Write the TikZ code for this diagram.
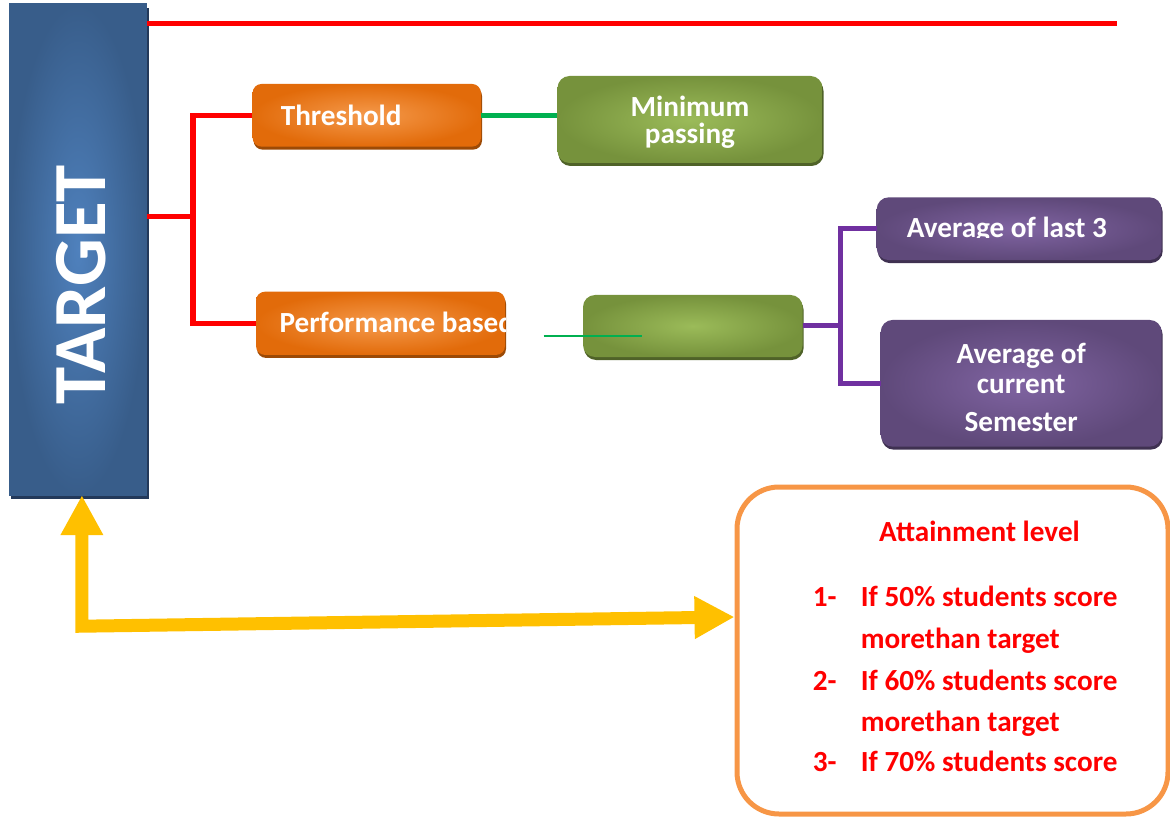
\documentclass[tikz,border=0pt]{standalone}
\usepackage{fontspec}
\setmainfont{Carlito}
\usetikzlibrary{
	arrows.meta,
	positioning,
	shadows
}

\definecolor{tgtlight}{HTML}{4F81BD}
\definecolor{tgtdark}{HTML}{385D8A}
\definecolor{tgtshadow}{HTML}{23395A}
\definecolor{orglight}{HTML}{F59A4C}
\definecolor{orgdark}{HTML}{E26B0A}
\definecolor{orgshadow}{HTML}{9C4A06}
\definecolor{grnlight}{HTML}{9BBB59}
\definecolor{grndark}{HTML}{76923C}
\definecolor{grnshadow}{HTML}{4F6228}
\definecolor{purlight}{HTML}{8064A2}
\definecolor{purdark}{HTML}{5F497A}
\definecolor{purshadow}{HTML}{3F3151}
\definecolor{linered}{HTML}{FF0000}
\definecolor{linegreen}{HTML}{00B050}
\definecolor{linepurple}{HTML}{7030A0}
\definecolor{arrowyellow}{HTML}{FFC000}
\definecolor{attainorange}{HTML}{F79646}

\tikzset{
	boxtxt/.style={text=white, font=\bfseries\fontsize{29.2}{30}\selectfont},
	innertxt/.style={boxtxt, inner sep=0pt, minimum width=0pt, minimum height=0pt},
	redtxt/.style={text=linered, inner sep=0pt, font=\bfseries\fontsize{29.2}{30}\selectfont},
	targetbox/.style={inner sep=0pt, minimum width=137.7pt, minimum height=491pt,
		inner color=tgtlight, outer color=tgtdark,
		drop shadow={shadow xshift=2pt, shadow yshift=-4pt, fill=tgtshadow, opacity=1}},
	targetlbl/.style={text=white, inner sep=0pt, font=\bfseries\fontsize{75}{80}\selectfont},
	orangebox/.style={boxtxt, inner sep=0pt, rounded corners=9pt,
		inner color=orglight, outer color=orgdark,
		drop shadow={shadow xshift=1pt, shadow yshift=-3pt, fill=orgshadow, opacity=1}},
	greenbox/.style={boxtxt, inner sep=0pt, rounded corners=12pt,
		inner color=grnlight, outer color=grndark,
		drop shadow={shadow xshift=1pt, shadow yshift=-3pt, fill=grnshadow, opacity=1}},
	purplebox/.style={boxtxt, inner sep=0pt, rounded corners=12pt,
		inner color=purlight, outer color=purdark,
		drop shadow={shadow xshift=1pt, shadow yshift=-3pt, fill=purshadow, opacity=1}},
	attainbox/.style={draw=attainorange, line width=5pt, fill=white, rounded corners=42pt,
		minimum width=431pt, minimum height=327pt},
	redline/.style={draw=linered, line width=5.5pt},
	greenline/.style={draw=linegreen, line width=5.5pt},
	thingreen/.style={draw=linegreen, line width=1pt},
	purpleline/.style={draw=linepurple, line width=5pt},
	yellowarrow/.style={draw=arrowyellow, line width=13pt,
		{Triangle[length=40pt,width=40pt]}-{Triangle[length=40pt,width=40pt]}}
}

\begin{document}
\begin{tikzpicture}[x=1pt,y=-1pt]
	\useasboundingbox (0,0) rectangle (1170,818);
	
	% target column
	\node[targetbox] (target) at (77.9,249.5) {};
	\node[targetlbl, rotate=90] (targettxt) at (81,285) {TARGET};
	
	% first level
	\node[orangebox, minimum width=228.4pt, minimum height=62.7pt, text width=172pt, align=left] (thresh) at (366.8,115.3) {Threshold};
	\node[orangebox, minimum width=249pt, minimum height=63.3pt,
		path picture={\node[innertxt, anchor=base west] (perftxt) at ([xshift=23.4pt,yshift=-9.7pt]path picture bounding box.west) {Performance based};}] (perf) at (380.5,323.3) {};
	
	% second level
	\node[greenbox, minimum width=265pt, minimum height=87pt, align=center, text depth=0pt,
		font=\bfseries\fontsize{29.2}{27.3}\selectfont] (minpass) at (690,119.5) {Minimum\\passing};
	\node[greenbox, minimum width=219.6pt, minimum height=62pt] (perfbox) at (692.8,326) {};
	
	% averages
	\node[purplebox, minimum width=285pt, minimum height=62.7pt,
		path picture={
			\clip (path picture bounding box.north west) rectangle ([yshift=-9.3pt]path picture bounding box.east);
			\node[innertxt, anchor=base] (lasttxt) at ([xshift=-12.3pt,yshift=-8.6pt]path picture bounding box.center) {Average of last 3};}] (avglast) at (1019.2,228.7) {};
	\node[purplebox, minimum width=281pt, minimum height=126.7pt, align=center] (avgcur) at (1021.2,383.3) {\rule{0pt}{28.4pt}Average of\\current\\[8pt]Semester};
	
	% attainment box
	\node[attainbox] (attain) at (952.5,650.5) {};
	\node[redtxt, anchor=base] (attaintitle) at (979.5,541.7) {Attainment level};
	\foreach \n/\yy in {1/606.7, 2/690, 3/771.7}
		\node[redtxt, anchor=base west] (num\n) at (812.7,\yy) {\n-};
	\foreach \i/\txt/\yy in {
		1/If 50\% students score/606.7,
		2/morethan target/648.3,
		3/If 60\% students score/690,
		4/morethan target/731.7,
		5/If 70\% students score/771.7
	}
		\node[redtxt, anchor=base west] (item\i) at (860.7,\yy) {\txt};
	
	% connectors
	\coordinate (topend) at (1117,23.7);
	\coordinate (fork) at (193,216.7);
	\draw[redline] (target.east |- topend) -- (topend);
	\draw[redline] (target.east |- fork) -- (fork);
	\draw[redline] (thresh.west) -| (fork) |- (perf.west);
	
	\draw[greenline] (thresh.east) -- (thresh.east -| minpass.west);
	\coordinate (gstart) at (543.5,336);
	\coordinate (gend) at (642,336);
	\draw[thingreen] (gstart) -- (gend);
	
	\draw[purpleline] (perfbox.east) -- ++(38,0) coordinate (pfork);
	\draw[purpleline] (avglast.west) -| (pfork) |- (avgcur.west);
	
	\draw[yellowarrow] ([xshift=4pt]target.south) -- ++(0,131) -- ([yshift=33.5pt]attain.west);
	
\end{tikzpicture}
\end{document}
